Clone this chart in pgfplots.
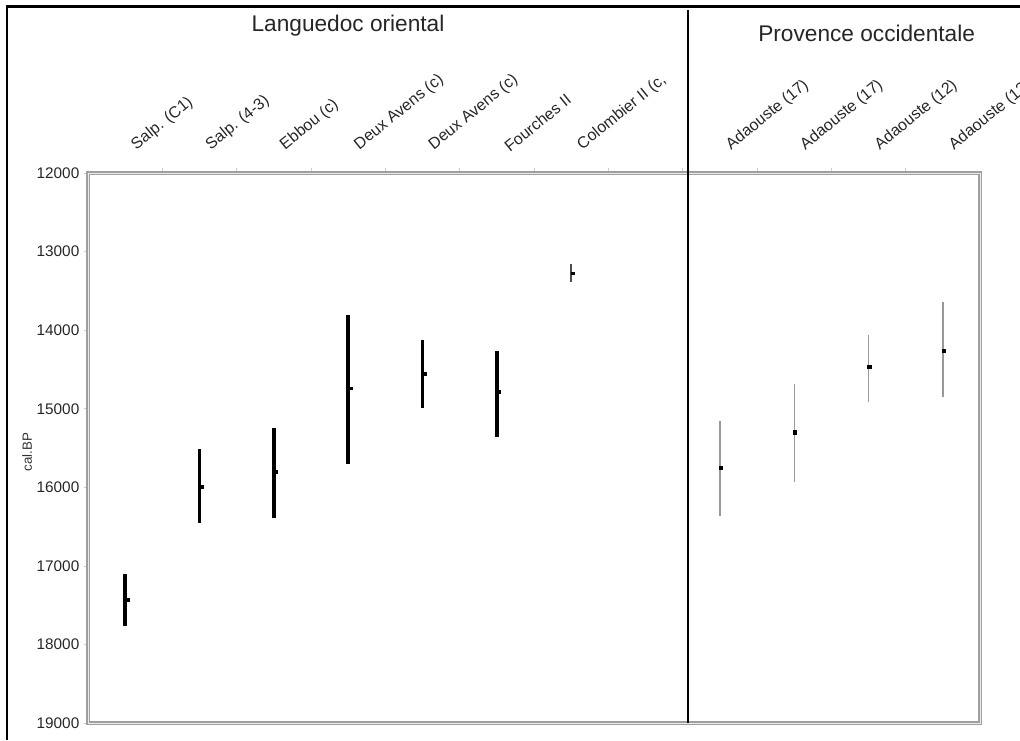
\documentclass[border=0pt]{standalone}
\usepackage{pgfplots}
\pgfplotsset{compat=1.18}
\usepackage{fontspec}
\setmainfont{Liberation Sans}
\begin{document}
\begin{tikzpicture}
\path[use as bounding box] (0,0) rectangle (765pt,555pt);
\begin{axis}[
  at={(66pt,12.75pt)}, anchor=south west,
  scale only axis, width=669pt, height=412.5pt,
  xmin=0, xmax=12, ymin=12000, ymax=19000, y dir=reverse,
  clip=false,
  axis line style={draw=gray!75, line width=0.8pt, double=gray!15, double distance=0.7pt},
  xtick={0.5,1.5,...,11.5},
  xticklabels={Salp. (C1), Salp. (4-3), Ebbou (c), Deux Avens (c), Deux Avens (c), Fourches II, {Colombier II (c,}, {}, Adaouste (17), Adaouste (17), Adaouste (12), Adaouste (12)},
  major x tick style={draw=none},
  minor xtick={1,2,...,11},
  minor x tick style={draw=gray!40, line width=0.4pt},
  minor tick length=4pt,
  xtick pos=right, xticklabel pos=right,
  xticklabel style={font=\fontsize{12}{14}\selectfont, text=black!85, inner sep=0pt, xshift=10pt, yshift=12pt, rotate=39, anchor=south west},
  ytick={12000,13000,...,19000},
  scaled y ticks=false,
  ytick pos=left,
  tick align=outside,
  major y tick style={draw=gray!40, line width=0.4pt},
  major tick length=3pt,
  yticklabel style={font=\fontsize{11.5}{13}\selectfont, text=black!85},
  /pgf/number format/set thousands separator={},
  /pgf/number format/assume math mode=true,
]
% Languedoc oriental (thick)
\addplot+[only marks, black, mark=square*, mark size=1.1pt, mark options={xshift=1.6pt, fill=black},
  error bars/.cd, y dir=both, y explicit, error mark=none,
  error bar style={line width=2.6pt, black}]
  table[x=x, y=y, y error plus=ep, y error minus=em] {
x y ep em
0.5 17430 340 330
1.5 15990 470 480
2.5 15800 590 550
3.5 14740 960 930
4.5 14550 435 420
5.5 14790 565 530
};
% Colombier II (thin)
\addplot+[only marks, black, mark=square*, mark size=0.8pt, mark options={xshift=1.2pt, fill=black},
  error bars/.cd, y dir=both, y explicit, error mark=none,
  error bar style={line width=1.1pt, black!70}]
  table[x=x, y=y, y error plus=ep, y error minus=em] {
x y ep em
6.5 13275 115 115
};
% Provence occidentale (thin gray)
\addplot+[only marks, black, mark=square*, mark size=1.2pt, mark options={xshift=0.6pt, fill=black},
  error bars/.cd, y dir=both, y explicit, error mark=none,
  error bar style={line width=1pt, gray!80}]
  table[x=x, y=y, y error plus=ep, y error minus=em] {
x y ep em
8.5 15750 610 590
9.5 15300 630 610
10.5 14470 440 410
11.5 14260 585 615
};
\end{axis}
% separator and frame
\draw[black, line width=1.6pt] (516pt,12.75pt) -- (516pt,547.5pt);
\draw[black, line width=2.2pt] (5.25pt,0pt) -- (5.25pt,550pt) -- (765pt,550pt);
% group titles
\node[font=\fontsize{17}{20}\selectfont, text=black!85] at (261pt,536pt) {Languedoc oriental};
\node[font=\fontsize{17}{20}\selectfont, text=black!85] at (650pt,530.25pt) {Provence occidentale};
% y label
\node[rotate=90, font=\fontsize{10}{12}\selectfont, text=black!80] at (20.25pt,216pt) {cal.BP};
\end{tikzpicture}
\end{document}
